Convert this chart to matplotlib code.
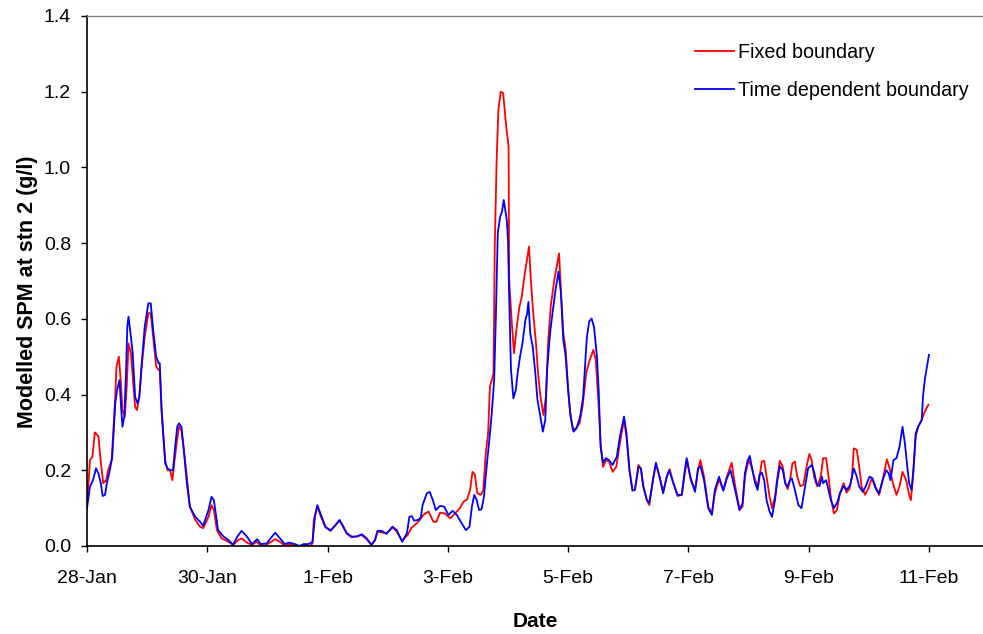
import matplotlib
matplotlib.use("Agg")
import matplotlib.pyplot as plt

plt.rcParams['font.family'] = ['Liberation Sans', 'DejaVu Sans']

# time in days after 28-Jan 00:00
fixed_days = [
    0.00, 0.05, 0.09, 0.13, 0.19, 0.23, 0.27, 0.32, 0.35, 0.41, 0.47, 0.49, 0.53, 0.56, 0.59,
    0.63, 0.66, 0.69, 0.73, 0.76, 0.80, 0.83, 0.87, 0.91, 0.96, 1.02, 1.06, 1.10, 1.15, 1.19,
    1.21, 1.24, 1.30, 1.34, 1.38, 1.42, 1.45, 1.49, 1.53, 1.57, 1.61, 1.66, 1.71, 1.80, 1.88,
    1.93, 2.02, 2.07, 2.11, 2.16, 2.24, 2.32, 2.43, 2.52, 2.57, 2.66, 2.74, 2.82, 2.88, 2.96,
    3.04, 3.13, 3.21, 3.29, 3.38, 3.46, 3.54, 3.63, 3.71, 3.75, 3.77, 3.83, 3.89, 3.96, 4.05,
    4.12, 4.20, 4.25, 4.32, 4.40, 4.48, 4.57, 4.65, 4.73, 4.79, 4.83, 4.90, 4.98, 5.08, 5.15,
    5.24, 5.33, 5.40, 5.47, 5.54, 5.59, 5.68, 5.76, 5.81, 5.87, 5.95, 6.04, 6.12, 6.20, 6.26,
    6.32, 6.37, 6.41, 6.45, 6.49, 6.55, 6.59, 6.63, 6.67, 6.70, 6.76, 6.78, 6.81, 6.84, 6.88,
    6.92, 6.97, 7.01, 7.02, 7.06, 7.10, 7.14, 7.19, 7.23, 7.28, 7.31, 7.35, 7.38, 7.42, 7.47,
    7.50, 7.54, 7.59, 7.63, 7.67, 7.71, 7.77, 7.81, 7.85, 7.88, 7.92, 7.96, 7.99, 8.03, 8.08,
    8.13, 8.19, 8.24, 8.30, 8.35, 8.42, 8.46, 8.50, 8.54, 8.58, 8.63, 8.68, 8.74, 8.80, 8.86,
    8.93, 8.97, 9.02, 9.07, 9.11, 9.17, 9.21, 9.25, 9.31, 9.35, 9.41, 9.46, 9.52, 9.58, 9.64,
    9.69, 9.75, 9.82, 9.89, 9.94, 9.98, 10.04, 10.11, 10.16, 10.20, 10.26, 10.33, 10.39, 10.44, 10.51,
    10.58, 10.64, 10.72, 10.77, 10.85, 10.90, 10.94, 11.00, 11.05, 11.11, 11.16, 11.22, 11.26, 11.30, 11.35,
    11.39, 11.44, 11.48, 11.52, 11.57, 11.61, 11.65, 11.69, 11.73, 11.77, 11.81, 11.86, 11.91, 11.97, 12.01,
    12.05, 12.09, 12.14, 12.20, 12.24, 12.29, 12.33, 12.37, 12.42, 12.47, 12.52, 12.58, 12.63, 12.68, 12.72,
    12.75, 12.80, 12.84, 12.88, 12.94, 12.99, 13.05, 13.10, 13.17, 13.23, 13.30, 13.34, 13.40, 13.46, 13.51,
    13.56, 13.62, 13.67, 13.70, 13.74, 13.78, 13.82, 13.88, 13.93, 13.99,
]
fixed_spm = [
    0.110, 0.227, 0.236, 0.300, 0.290, 0.220, 0.166, 0.174, 0.200, 0.227, 0.394, 0.474, 0.500, 0.438, 0.359,
    0.342, 0.420, 0.535, 0.510, 0.447, 0.368, 0.359, 0.394, 0.474, 0.553, 0.615, 0.615, 0.553, 0.474, 0.465,
    0.465, 0.359, 0.227, 0.200, 0.200, 0.174, 0.218, 0.271, 0.315, 0.306, 0.254, 0.183, 0.104, 0.069, 0.051,
    0.047, 0.077, 0.108, 0.095, 0.042, 0.020, 0.014, 0.003, 0.016, 0.020, 0.009, 0.003, 0.011, 0.003, 0.001,
    0.009, 0.018, 0.011, 0.000, 0.005, 0.000, 0.000, 0.000, 0.000, 0.007, 0.069, 0.106, 0.077, 0.051, 0.042,
    0.053, 0.067, 0.053, 0.032, 0.023, 0.025, 0.029, 0.018, 0.003, 0.016, 0.038, 0.036, 0.034, 0.049, 0.038,
    0.014, 0.029, 0.049, 0.058, 0.070, 0.082, 0.091, 0.064, 0.064, 0.088, 0.086, 0.073, 0.086, 0.100, 0.117,
    0.123, 0.148, 0.196, 0.188, 0.139, 0.135, 0.148, 0.245, 0.298, 0.421, 0.456, 0.791, 1.011, 1.152, 1.200,
    1.196, 1.108, 1.055, 0.703, 0.597, 0.509, 0.571, 0.632, 0.659, 0.720, 0.751, 0.791, 0.703, 0.615, 0.527,
    0.456, 0.394, 0.346, 0.394, 0.544, 0.632, 0.703, 0.738, 0.773, 0.676, 0.562, 0.518, 0.438, 0.359, 0.306,
    0.311, 0.324, 0.368, 0.456, 0.487, 0.518, 0.491, 0.394, 0.271, 0.209, 0.227, 0.223, 0.196, 0.209, 0.271,
    0.333, 0.289, 0.200, 0.146, 0.148, 0.214, 0.205, 0.157, 0.121, 0.108, 0.174, 0.217, 0.183, 0.143, 0.183,
    0.203, 0.166, 0.132, 0.135, 0.192, 0.227, 0.174, 0.148, 0.200, 0.227, 0.183, 0.104, 0.086, 0.139, 0.176,
    0.148, 0.183, 0.220, 0.166, 0.095, 0.104, 0.183, 0.227, 0.209, 0.174, 0.157, 0.223, 0.225, 0.183, 0.130,
    0.100, 0.130, 0.183, 0.225, 0.209, 0.166, 0.150, 0.174, 0.218, 0.223, 0.183, 0.158, 0.161, 0.214, 0.243,
    0.227, 0.183, 0.158, 0.183, 0.232, 0.232, 0.183, 0.126, 0.086, 0.095, 0.139, 0.166, 0.141, 0.152, 0.183,
    0.258, 0.254, 0.209, 0.157, 0.135, 0.152, 0.179, 0.157, 0.135, 0.174, 0.229, 0.209, 0.166, 0.135, 0.157,
    0.196, 0.174, 0.135, 0.121, 0.192, 0.289, 0.315, 0.333, 0.355, 0.373,
]

timedep_days = [
    0.00, 0.05, 0.10, 0.15, 0.19, 0.23, 0.26, 0.30, 0.33, 0.38, 0.42, 0.47, 0.50, 0.54, 0.57,
    0.59, 0.62, 0.65, 0.67, 0.69, 0.73, 0.76, 0.80, 0.84, 0.87, 0.91, 0.96, 1.02, 1.06, 1.10,
    1.15, 1.19, 1.21, 1.24, 1.30, 1.34, 1.39, 1.43, 1.46, 1.50, 1.53, 1.57, 1.61, 1.66, 1.71,
    1.80, 1.88, 1.93, 2.02, 2.07, 2.11, 2.18, 2.27, 2.35, 2.43, 2.50, 2.57, 2.66, 2.74, 2.83,
    2.89, 2.99, 3.05, 3.13, 3.21, 3.29, 3.36, 3.46, 3.53, 3.60, 3.68, 3.75, 3.79, 3.83, 3.89,
    3.97, 4.05, 4.12, 4.20, 4.25, 4.32, 4.40, 4.48, 4.57, 4.65, 4.73, 4.79, 4.83, 4.90, 4.98,
    5.08, 5.15, 5.24, 5.32, 5.36, 5.40, 5.44, 5.51, 5.55, 5.58, 5.65, 5.70, 5.75, 5.80, 5.87,
    5.94, 6.01, 6.08, 6.15, 6.23, 6.30, 6.36, 6.40, 6.44, 6.48, 6.52, 6.56, 6.60, 6.65, 6.69,
    6.73, 6.77, 6.80, 6.83, 6.87, 6.90, 6.93, 6.98, 7.00, 7.02, 7.05, 7.09, 7.13, 7.16, 7.20,
    7.24, 7.29, 7.32, 7.34, 7.37, 7.41, 7.45, 7.49, 7.53, 7.58, 7.62, 7.65, 7.70, 7.74, 7.79,
    7.84, 7.88, 7.92, 7.96, 8.00, 8.04, 8.09, 8.14, 8.20, 8.25, 8.31, 8.35, 8.39, 8.43, 8.48,
    8.51, 8.54, 8.58, 8.63, 8.68, 8.74, 8.81, 8.86, 8.93, 8.97, 9.02, 9.07, 9.11, 9.17, 9.21,
    9.25, 9.31, 9.35, 9.41, 9.46, 9.52, 9.58, 9.64, 9.68, 9.75, 9.82, 9.89, 9.94, 9.97, 10.03,
    10.11, 10.16, 10.20, 10.26, 10.33, 10.39, 10.44, 10.51, 10.58, 10.64, 10.70, 10.77, 10.85, 10.90, 10.94,
    10.98, 11.02, 11.07, 11.11, 11.15, 11.18, 11.22, 11.26, 11.30, 11.35, 11.39, 11.44, 11.48, 11.52, 11.57,
    11.61, 11.65, 11.69, 11.72, 11.77, 11.83, 11.88, 11.94, 11.99, 12.05, 12.09, 12.13, 12.18, 12.22, 12.24,
    12.29, 12.33, 12.37, 12.42, 12.48, 12.52, 12.58, 12.63, 12.69, 12.75, 12.80, 12.84, 12.90, 12.95, 13.01,
    13.06, 13.12, 13.17, 13.23, 13.29, 13.33, 13.36, 13.41, 13.46, 13.51, 13.56, 13.60, 13.64, 13.67, 13.71,
    13.74, 13.78, 13.82, 13.88, 13.90, 13.93, 14.00,
]
timedep_spm = [
    0.100, 0.157, 0.174, 0.205, 0.192, 0.166, 0.132, 0.135, 0.166, 0.200, 0.236, 0.377, 0.412, 0.438, 0.359,
    0.315, 0.342, 0.465, 0.579, 0.606, 0.553, 0.509, 0.394, 0.377, 0.394, 0.483, 0.579, 0.641, 0.641, 0.571,
    0.500, 0.483, 0.483, 0.359, 0.218, 0.205, 0.200, 0.200, 0.254, 0.315, 0.324, 0.315, 0.254, 0.166, 0.104,
    0.077, 0.064, 0.053, 0.095, 0.130, 0.121, 0.042, 0.025, 0.016, 0.003, 0.025, 0.040, 0.025, 0.005, 0.018,
    0.005, 0.007, 0.020, 0.035, 0.020, 0.005, 0.009, 0.005, 0.000, 0.005, 0.005, 0.011, 0.077, 0.108, 0.082,
    0.049, 0.040, 0.053, 0.069, 0.055, 0.034, 0.025, 0.025, 0.031, 0.020, 0.003, 0.016, 0.040, 0.040, 0.032,
    0.051, 0.042, 0.011, 0.034, 0.077, 0.079, 0.067, 0.069, 0.076, 0.108, 0.139, 0.143, 0.121, 0.095, 0.106,
    0.104, 0.082, 0.093, 0.082, 0.060, 0.042, 0.051, 0.104, 0.135, 0.121, 0.095, 0.097, 0.130, 0.218, 0.280,
    0.350, 0.438, 0.615, 0.826, 0.870, 0.883, 0.914, 0.861, 0.808, 0.659, 0.465, 0.390, 0.412, 0.456, 0.500,
    0.535, 0.597, 0.615, 0.645, 0.562, 0.527, 0.465, 0.386, 0.350, 0.302, 0.333, 0.465, 0.562, 0.615, 0.676,
    0.725, 0.670, 0.544, 0.500, 0.412, 0.342, 0.302, 0.311, 0.342, 0.394, 0.549, 0.593, 0.601, 0.579, 0.500,
    0.403, 0.262, 0.220, 0.232, 0.227, 0.214, 0.236, 0.289, 0.342, 0.298, 0.200, 0.148, 0.148, 0.209, 0.205,
    0.157, 0.121, 0.114, 0.174, 0.220, 0.183, 0.139, 0.183, 0.200, 0.166, 0.135, 0.135, 0.200, 0.232, 0.183,
    0.143, 0.205, 0.211, 0.174, 0.100, 0.082, 0.148, 0.183, 0.146, 0.179, 0.200, 0.152, 0.095, 0.113, 0.192,
    0.223, 0.238, 0.196, 0.166, 0.148, 0.188, 0.194, 0.174, 0.121, 0.091, 0.077, 0.121, 0.174, 0.211, 0.200,
    0.166, 0.157, 0.174, 0.179, 0.148, 0.108, 0.100, 0.157, 0.205, 0.214, 0.196, 0.166, 0.158, 0.183, 0.166,
    0.174, 0.148, 0.121, 0.100, 0.117, 0.139, 0.158, 0.148, 0.161, 0.205, 0.183, 0.157, 0.143, 0.158, 0.183,
    0.179, 0.152, 0.139, 0.174, 0.200, 0.192, 0.174, 0.227, 0.232, 0.262, 0.315, 0.271, 0.209, 0.166, 0.148,
    0.200, 0.298, 0.315, 0.333, 0.394, 0.439, 0.505,
]

tick_days = [0, 2, 4, 6, 8, 10, 12, 14]
tick_labels = ['28-Jan', '30-Jan', '1-Feb', '3-Feb', '5-Feb', '7-Feb', '9-Feb', '11-Feb']
y_ticks = [0.0, 0.2, 0.4, 0.6, 0.8, 1.0, 1.2, 1.4]

fig = plt.figure(figsize=(9.83, 6.34), dpi=100)
ax = fig.add_axes([87 / 983, 1 - 546 / 634, 896 / 983, 530 / 634])

ax.plot(fixed_days, fixed_spm, color='#ff0000', lw=1.3, label='Fixed boundary')
ax.plot(timedep_days, timedep_spm, color='#0000ff', lw=1.3, label='Time dependent boundary')

ax.set_xlim(0, 896 / 60.14)
ax.set_ylim(0, 1.4)
ax.set_xticks(tick_days)
ax.set_xticklabels(tick_labels)
ax.set_yticks(y_ticks)
ax.set_yticklabels([f'{v:.1f}' for v in y_ticks])
ax.tick_params(direction='out', length=4.5, width=1, labelsize=14, colors='black')
ax.tick_params(axis='x', pad=13)
ax.tick_params(axis='y', pad=7)

ax.spines['right'].set_visible(False)
ax.spines['top'].set_color('#808080')
ax.spines['top'].set_linewidth(1)
ax.spines['left'].set_linewidth(1.2)
ax.spines['bottom'].set_linewidth(1.2)

ax.set_xlabel('Date', fontsize=15, fontweight='bold')
ax.set_ylabel('Modelled SPM at stn 2 (g/l)', fontsize=15.5, fontweight='bold')
ax.xaxis.set_label_coords(0.5, -0.125)
ax.yaxis.set_label_coords(-0.055, 0.48)

ax.legend(loc='upper right', bbox_to_anchor=(0.984, 0.95), frameon=False, fontsize=14.2,
          handlelength=2.0, handletextpad=0.2, labelspacing=1.0, borderaxespad=0, borderpad=0)

fig.savefig('out.png', dpi=100)
